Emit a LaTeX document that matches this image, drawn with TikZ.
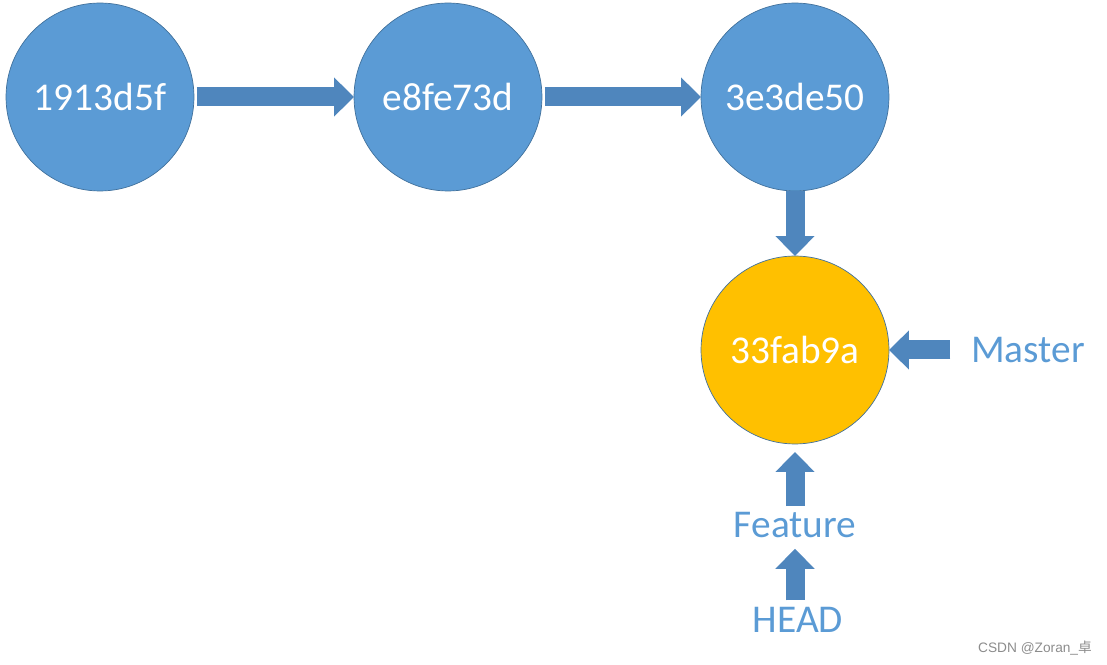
\documentclass[tikz,border=0pt]{standalone}
\usepackage{fontspec}
\setmainfont{Carlito}
\newfontfamily\wmfont{Liberation Sans}
\newfontfamily\cjk{Noto Sans CJK SC}
\usetikzlibrary{arrows.meta}
\definecolor{nodeblue}{RGB}{91,155,213}
\definecolor{edgeblue}{RGB}{65,113,156}
\definecolor{arrowblue}{RGB}{79,134,189}
\definecolor{gold}{RGB}{255,192,0}

\begin{document}
\begin{tikzpicture}[x=0.02cm, y=-0.02cm,
    commit/.style={circle, fill=nodeblue, draw=edgeblue, line width=0.4pt,
        minimum size=3.76cm, inner sep=0pt, outer sep=0pt, text=white,
        font=\fontsize{22.4}{27}\selectfont},
    branch/.style={text=nodeblue, inner sep=0pt, outer sep=0pt,
        font=\fontsize{22.4}{27}\selectfont},
    block/.style={arrowblue, line width=0.38cm,
        -{Triangle[width=0.76cm, length=0.4cm]}}]
    \useasboundingbox (0,0) rectangle (1107,665);

    % Các commit
    \node[commit] (c1) at (100,97) {1913d5f};
    \node[commit] (c2) at (448,97) {e8fe73d};
    \node[commit] (c3) at (795,97) {3e3de50};
    \node[commit, fill=gold] (c4) at (795,350) {33fab9a};

    % Các nhánh
    \node[branch] (master) at (1028,350) {Master};
    \node[branch] (feature) at (795,525) {Feature};
    \node[branch] (head) at (798,620) {HEAD};

    % Mũi tên
    \draw[block, shorten <=0.06cm] (c1.east) -- (c2.west);
    \draw[block, shorten <=0.06cm] (c2.east) -- (c3.west);
    \draw[block] (c3.south) -- (c4.north);
    \draw[block, shorten <=0.42cm] (master.west) -- (c4.east);
    \draw[block, shorten <=0.12cm, shorten >=0.16cm] (feature.north) -- (c4.south);
    \draw[block, shorten <=0.14cm, shorten >=0.22cm] (head.north -| feature.south) -- (feature.south);

    \node[text=black!45, font=\wmfont\fontsize{7.8}{9}\selectfont] (mark) at (1035,648) {CSDN @Zoran\_{\cjk 卓}};
\end{tikzpicture}
\end{document}
